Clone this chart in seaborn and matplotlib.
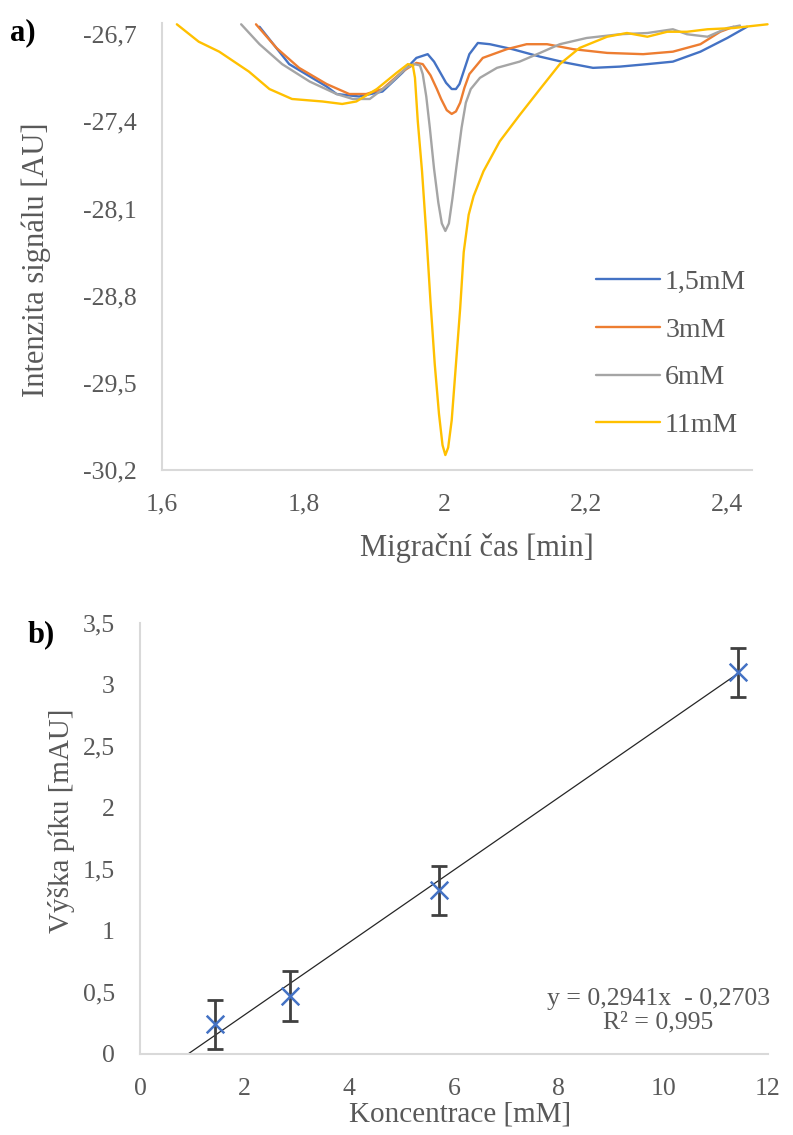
import numpy as np
import pandas as pd
import seaborn as sns
import matplotlib.pyplot as plt

# a) electropherograms - migration time [min] vs signal [AU]
t_15 = [1.738, 1.780, 1.833, 1.847, 1.879, 1.912, 1.940, 1.960, 1.976, 1.985, 1.993, 2.002, 2.010, 2.016,
        2.021, 2.028, 2.035, 2.047, 2.064, 2.096, 2.135, 2.173, 2.210, 2.248, 2.287, 2.323, 2.362, 2.400, 2.428]
s_15 = [-26.64, -26.94, -27.12, -27.18, -27.20, -27.16, -27.01, -26.89, -26.86, -26.92, -27.00, -27.09, -27.14, -27.14,
        -27.10, -26.98, -26.86, -26.77, -26.78, -26.82, -26.88, -26.93, -26.97, -26.96, -26.94, -26.92, -26.84, -26.73, -26.64]

t_3 = [1.733, 1.762, 1.794, 1.833, 1.865, 1.889, 1.912, 1.940, 1.960, 1.969, 1.980, 1.989, 1.995, 2.003, 2.010,
       2.016, 2.022, 2.028, 2.035, 2.054, 2.088, 2.116, 2.145, 2.182, 2.230, 2.281, 2.323, 2.362, 2.390, 2.409]
s_3 = [-26.62, -26.81, -26.97, -27.10, -27.18, -27.18, -27.14, -27.00, -26.93, -26.94, -27.03, -27.14, -27.22, -27.31, -27.34,
       -27.32, -27.25, -27.13, -27.02, -26.89, -26.82, -26.78, -26.78, -26.82, -26.85, -26.86, -26.84, -26.78, -26.68, -26.64]

t_6 = [1.712, 1.738, 1.770, 1.809, 1.847, 1.870, 1.894, 1.922, 1.946, 1.957, 1.965, 1.969, 1.974,
       1.979, 1.985, 1.991, 1.996, 2.001, 2.006, 2.011, 2.017, 2.024, 2.030, 2.037, 2.050, 2.074, 2.106, 2.135,
       2.163, 2.201, 2.248, 2.287, 2.323, 2.343, 2.372, 2.400, 2.418]
s_6 = [-26.62, -26.78, -26.94, -27.08, -27.18, -27.22, -27.22, -27.10, -26.97, -26.94, -26.95, -27.02, -27.20,
       -27.45, -27.78, -28.05, -28.22, -28.28, -28.22, -28.02, -27.75, -27.45, -27.25, -27.14, -27.05, -26.97, -26.92, -26.85,
       -26.78, -26.73, -26.70, -26.69, -26.66, -26.70, -26.72, -26.65, -26.63]

t_11 = [1.621, 1.652, 1.681, 1.723, 1.752, 1.784, 1.827, 1.855, 1.875, 1.904, 1.932, 1.948, 1.955,
        1.958, 1.962, 1.968, 1.974, 1.980, 1.986, 1.992, 1.997, 2.001, 2.005, 2.010, 2.016, 2.022, 2.027,
        2.034, 2.041, 2.055, 2.078, 2.106, 2.135, 2.163, 2.191, 2.230, 2.258, 2.287, 2.315, 2.343, 2.372,
        2.409, 2.457]
s_11 = [-26.62, -26.76, -26.84, -27.00, -27.14, -27.22, -27.24, -27.26, -27.24, -27.14, -27.01, -26.94, -26.95,
        -27.05, -27.40, -27.80, -28.30, -28.85, -29.35, -29.75, -30.00, -30.08, -30.02, -29.80, -29.35, -28.90, -28.45,
        -28.15, -28.00, -27.80, -27.56, -27.35, -27.14, -26.94, -26.81, -26.72, -26.69, -26.72, -26.68, -26.68, -26.66,
        -26.65, -26.62]

series_names = ['1,5mM', '3mM', '6mM', '11mM']
series_colors = ['#4472C4', '#ED7D31', '#A5A5A5', '#FFC000']
y_ticks_a = [-26.7, -27.4, -28.1, -28.8, -29.5, -30.2]
x_ticks_a = [1.6, 1.8, 2.0, 2.2, 2.4]

# b) calibration
conc = [1.43, 2.86, 5.71, 11.43]
peak_h = [0.24, 0.47, 1.33, 3.10]
peak_err = [0.2, 0.2, 0.2, 0.2]
slope, intercept, r2 = 0.2941, -0.2703, 0.995
y_ticks_b = [0, 0.5, 1, 1.5, 2, 2.5, 3, 3.5]

sns.set_theme(style='white')
plt.rcParams['font.family'] = ['Liberation Serif', 'DejaVu Serif']
grey_txt = '#595959'

def comma(v):
    return ('%g' % v).replace('.', ',')

df_a = pd.concat([
    pd.DataFrame({'t': t, 's': s, 'c': n})
    for t, s, n in zip([t_15, t_3, t_6, t_11], [s_15, s_3, s_6, s_11], series_names)
])

fig = plt.figure(figsize=(7.93, 11.35), dpi=100)
ax1 = fig.add_axes([0.2043, 0.5859, 0.744, 0.3938])
ax2 = fig.add_axes([0.1765, 0.0714, 0.792, 0.3797])

sns.lineplot(data=df_a, x='t', y='s', hue='c', palette=series_colors, hue_order=series_names,
             sort=False, linewidth=1.7, ax=ax1)
for ln in ax1.lines:
    ln.set_clip_on(False)
    ln.set_solid_joinstyle('round')
ax1.set_xlim(1.6, 2.435)
ax1.set_ylim(-30.2, -26.61)
ax1.set_xticks(x_ticks_a)
ax1.set_xticklabels([comma(v) for v in x_ticks_a])
ax1.set_yticks(y_ticks_a)
ax1.set_yticklabels([comma(v) for v in y_ticks_a])
h, l = ax1.get_legend_handles_labels()
ax1.legend(h, l, loc='center left', bbox_to_anchor=(0.735, 0.26), frameon=False,
           fontsize=20, labelcolor=grey_txt, handlelength=2.3, handletextpad=0.2,
           labelspacing=0.8, borderpad=0, borderaxespad=0)
ax1.set_xlabel('Migrační čas [min]', fontsize=22, color=grey_txt)
ax1.set_ylabel('Intenzita signálu [AU]', fontsize=22, color=grey_txt)
ax1.xaxis.set_label_coords(0.534, -0.175)
ax1.yaxis.set_label_coords(-0.214, 0.47)
ax1.xaxis.label.set_va('center')
ax1.yaxis.label.set_va('center')

# b) calibration plot
trend_x = [0.0, conc[-1]]
trend_y = [slope * x + intercept for x in trend_x]
sns.lineplot(x=trend_x, y=trend_y, color='#262626', linewidth=0.9, ax=ax2)
ax2.errorbar(conc, peak_h, yerr=peak_err, fmt='none', ecolor='#404040',
             elinewidth=2, capsize=6, capthick=2)
sns.scatterplot(x=conc, y=peak_h, marker='x', s=160, color='#4472C4', linewidth=1.8, ax=ax2, zorder=5)
ax2.set_xlim(0, 12)
ax2.set_ylim(0, 3.5)
ax2.set_xticks(range(0, 13, 2))
ax2.set_yticks(y_ticks_b)
ax2.set_yticklabels([comma(v) for v in y_ticks_b])
ax2.set_xlabel('Koncentrace [mM]', fontsize=21, color=grey_txt)
ax2.set_ylabel('Výška píku [mAU]', fontsize=21, color=grey_txt)
ax2.xaxis.set_label_coords(0.51, -0.14)
ax2.yaxis.label.set_va('center')
ax2.xaxis.label.set_va('center')
ax2.yaxis.set_label_coords(-0.125, 0.54)
eq = 'y = %sx  - %s\nR² = %s' % (comma(slope), comma(-intercept), comma(r2))
ax2.text(0.825, 0.10, eq, transform=ax2.transAxes, ha='center', va='center',
         fontsize=18.5, color=grey_txt, linespacing=1.05)

for ax in (ax1, ax2):
    sns.despine(ax=ax)
    for sp in ('left', 'bottom'):
        ax.spines[sp].set_color('#D9D9D9')
        ax.spines[sp].set_linewidth(1.5)
    ax.tick_params(axis='both', length=0, labelsize=18.5, labelcolor=grey_txt)
    ax.tick_params(axis='x', pad=17)
    ax.tick_params(axis='y', pad=18)

fig.text(0.012, 0.971, 'a)', fontsize=22, fontweight='bold', color='black', va='center')
fig.text(0.035, 0.441, 'b)', fontsize=22, fontweight='bold', color='black', va='center')

fig.savefig('out.png', dpi=100)
